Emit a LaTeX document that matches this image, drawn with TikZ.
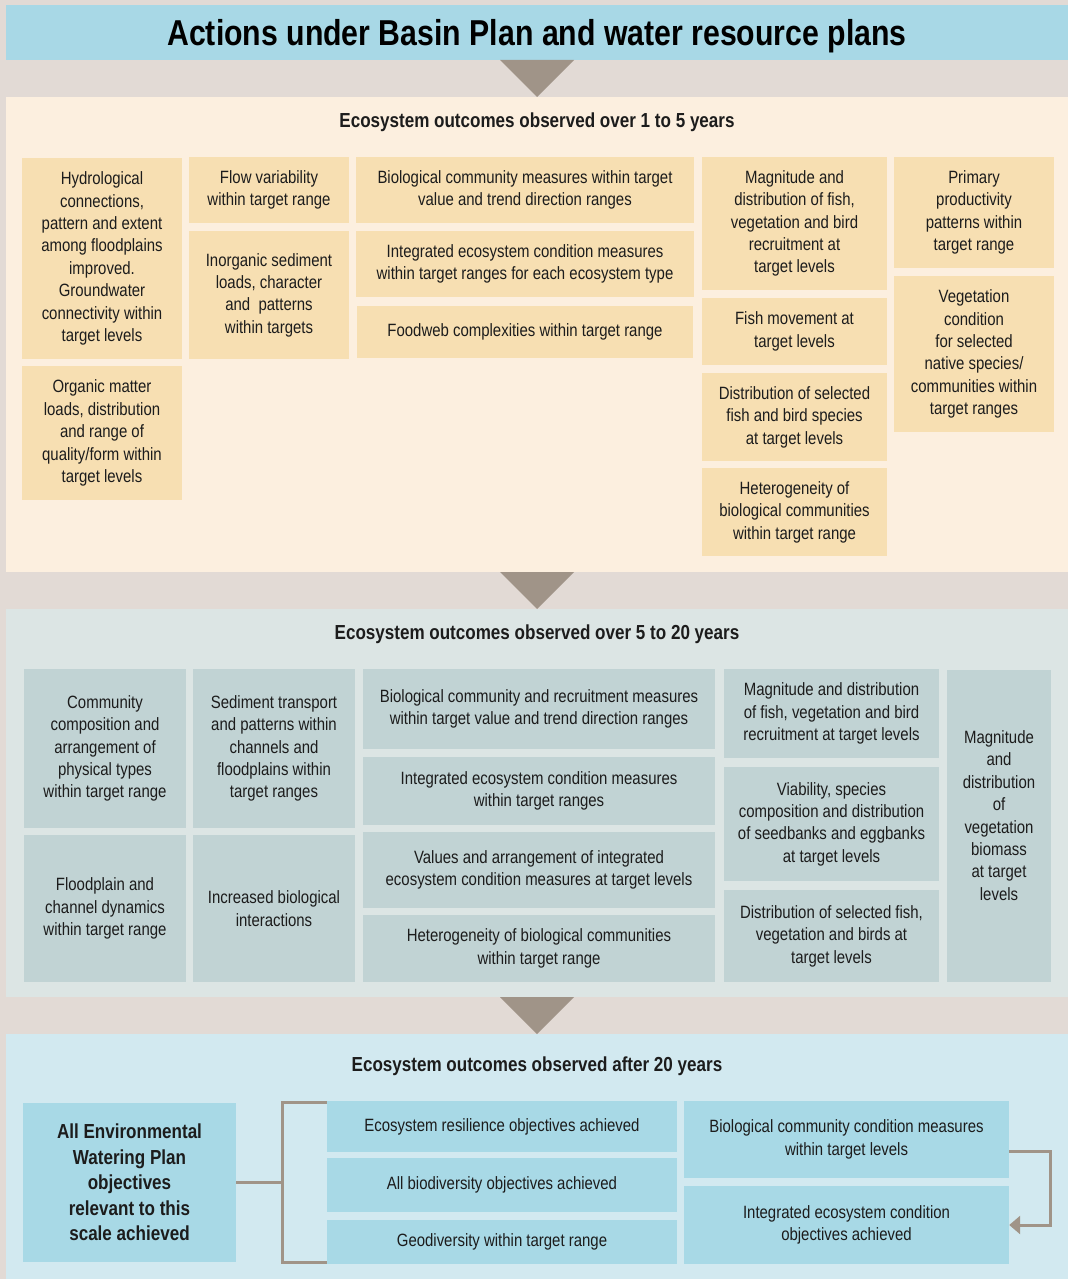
\documentclass[tikz,border=0pt]{standalone}
\usepackage{fontspec}
\setmainfont{Liberation Sans}[FakeStretch=0.84]
\usetikzlibrary{arrows.meta}

\definecolor{basebg}{HTML}{E2DAD5}
\definecolor{titlebg}{HTML}{A8D8E6}
\definecolor{stepgrey}{HTML}{A09488}
\definecolor{shortbg}{HTML}{FCEFDF}
\definecolor{shortbox}{HTML}{F7DFB2}
\definecolor{midbg}{HTML}{DCE5E4}
\definecolor{midbox}{HTML}{C1D3D4}
\definecolor{longbg}{HTML}{D2E9F0}
\definecolor{longbox}{HTML}{A8D9E6}
\definecolor{txt}{HTML}{1C1C1C}

\tikzset{
  outcome/.style={inner sep=0pt, align=center, text=txt, font=\fontsize{17.8}{22.4}\selectfont},
  shortterm/.style={outcome, fill=shortbox},
  midterm/.style={outcome, fill=midbox},
  longterm/.style={outcome, fill=longbox},
  heading/.style={anchor=base, text=txt, font=\bfseries\fontsize{20.3}{24}\selectfont},
  link/.style={draw=stepgrey, line width=3pt},
}

\begin{document}
\begin{tikzpicture}[x=1pt, y=-1pt]
\useasboundingbox (0,0) rectangle (1068,1279);
\fill[basebg] (0,0) rectangle (1068,1279);

\node[fill=titlebg, minimum width=1062, minimum height=55, inner sep=0pt, text depth=0pt,
      font=\bfseries\fontsize{36}{40}\selectfont] (title) at (537,32.5)
  {Actions under Basin Plan and water resource plans};

\fill[shortbg] (6,97) rectangle (1068,572);
\fill[midbg] (6,609) rectangle (1068,997);
\fill[longbg] (6,1034) rectangle (1068,1279);

\fill[stepgrey] (500,60) -- (574,60) -- (537,97) -- cycle;
\fill[stepgrey] (500,572) -- (574,572) -- (537,609) -- cycle;
\fill[stepgrey] (500,997) -- (574,997) -- (537,1034) -- cycle;

% 1 to 5 years
\node[heading] (head1) at (537,128) {Ecosystem outcomes observed over 1 to 5 years};

\node[shortterm, minimum width=160, minimum height=201] (hydro) at (102,258.5)
  {Hydrological\\connections,\\pattern and extent\\among floodplains\\improved.\\Groundwater\\connectivity within\\target levels};
\node[shortterm, minimum width=160, minimum height=134] (organic) at (102,433)
  {Organic matter\\loads, distribution\\and range of\\quality/form within\\target levels};
\node[shortterm, minimum width=160, minimum height=66] (flowvar) at (269,190)
  {Flow variability\\within target range};
\node[shortterm, minimum width=160, minimum height=128] (inorg) at (269,295)
  {Inorganic sediment\\loads, character\\and\ \ patterns\\within targets};
\node[shortterm, minimum width=338, minimum height=66] (biocomm) at (525,190)
  {Biological community measures within target\\value and trend direction ranges};
\node[shortterm, minimum width=338, minimum height=66] (integ) at (525,264)
  {Integrated ecosystem condition measures\\within target ranges for each ecosystem type};
\node[shortterm, minimum width=336, minimum height=52] (foodweb) at (525,332)
  {Foodweb complexities within target range};
\node[shortterm, minimum width=185, minimum height=133] (magn) at (794.5,223.5)
  {Magnitude and\\distribution of fish,\\vegetation and bird\\recruitment at\\target levels};
\node[shortterm, minimum width=185, minimum height=67] (fishmov) at (794.5,331.5)
  {Fish movement at\\target levels};
\node[shortterm, minimum width=185, minimum height=88] (distsel) at (794.5,417)
  {Distribution of selected\\fish and bird species\\at target levels};
\node[shortterm, minimum width=185, minimum height=88] (hetero) at (794.5,512)
  {Heterogeneity of\\biological communities\\within target range};
\node[shortterm, minimum width=160, minimum height=111] (primary) at (974,212.5)
  {Primary\\productivity\\patterns within\\target range};
\node[shortterm, minimum width=160, minimum height=156] (veg) at (974,354)
  {Vegetation\\condition\\for selected\\native species/\\communities within\\target ranges};

% 5 to 20 years
\node[heading] (head2) at (537,639) {Ecosystem outcomes observed over 5 to 20 years};

\node[midterm, minimum width=162, minimum height=159] (commcomp) at (105,748.5)
  {Community\\composition and\\arrangement of\\physical types\\within target range};
\node[midterm, minimum width=162, minimum height=147] (floodpl) at (105,908.5)
  {Floodplain and\\channel dynamics\\within target range};
\node[midterm, minimum width=162, minimum height=159] (sediment) at (274,748.5)
  {Sediment transport\\and patterns within\\channels and\\floodplains within\\target ranges};
\node[midterm, minimum width=162, minimum height=147] (increased) at (274,908.5)
  {Increased biological\\interactions};
\node[midterm, minimum width=352, minimum height=80] (biorec) at (539,709)
  {Biological community and recruitment measures\\within target value and trend direction ranges};
\node[midterm, minimum width=352, minimum height=68] (integmid) at (539,791)
  {Integrated ecosystem condition measures\\within target ranges};
\node[midterm, minimum width=352, minimum height=76] (values) at (539,870)
  {Values and arrangement of integrated\\ecosystem condition measures at target levels};
\node[midterm, minimum width=352, minimum height=67] (heteromid) at (539,948.5)
  {Heterogeneity of biological communities\\within target range};
\node[midterm, minimum width=215, minimum height=89] (magfish) at (831.5,713.5)
  {Magnitude and distribution\\of fish, vegetation and bird\\recruitment at target levels};
\node[midterm, minimum width=215, minimum height=114] (viab) at (831.5,824)
  {Viability, species\\composition and distribution\\of seedbanks and eggbanks\\at target levels};
\node[midterm, minimum width=215, minimum height=92] (distfish) at (831.5,936)
  {Distribution of selected fish,\\vegetation and birds at\\target levels};
\node[midterm, minimum width=104, minimum height=312, text depth=21pt] (magveg) at (999,826)
  {Magnitude\\and\\distribution\\of\\vegetation\\biomass\\at target\\levels};

% after 20 years
\node[heading] (head3) at (537,1071) {Ecosystem outcomes observed after 20 years};

\node[longterm, minimum width=213, minimum height=159,
      font=\bfseries\fontsize{20.3}{25.5}\selectfont] (allenv) at (129.5,1182.5)
  {All Environmental\\Watering Plan\\objectives\\relevant to this\\scale achieved};
\node[longterm, minimum width=350, minimum height=51] (resil) at (502,1126.5)
  {Ecosystem resilience objectives achieved};
\node[longterm, minimum width=350, minimum height=54] (biodiv) at (502,1185)
  {All biodiversity objectives achieved};
\node[longterm, minimum width=350, minimum height=44] (geodiv) at (502,1242)
  {Geodiversity within target range};
\node[longterm, minimum width=325, minimum height=77] (biocond) at (846.5,1139.5)
  {Biological community condition measures\\within target levels};
\node[longterm, minimum width=325, minimum height=78] (integcond) at (846.5,1225)
  {Integrated ecosystem condition\\objectives achieved};

\coordinate (brk) at (282,1182.5);
\draw[link] (allenv.east) -- (brk);
\draw[link] ([yshift=-2pt]resil.north west) -| (brk) |- ([yshift=2pt]geodiv.south west);
\draw[link, -{Triangle[length=11pt, width=18pt]}]
  ([yshift=-11.5pt]biocond.east) -- ++(41,0) |- (integcond.east);
\end{tikzpicture}
\end{document}
